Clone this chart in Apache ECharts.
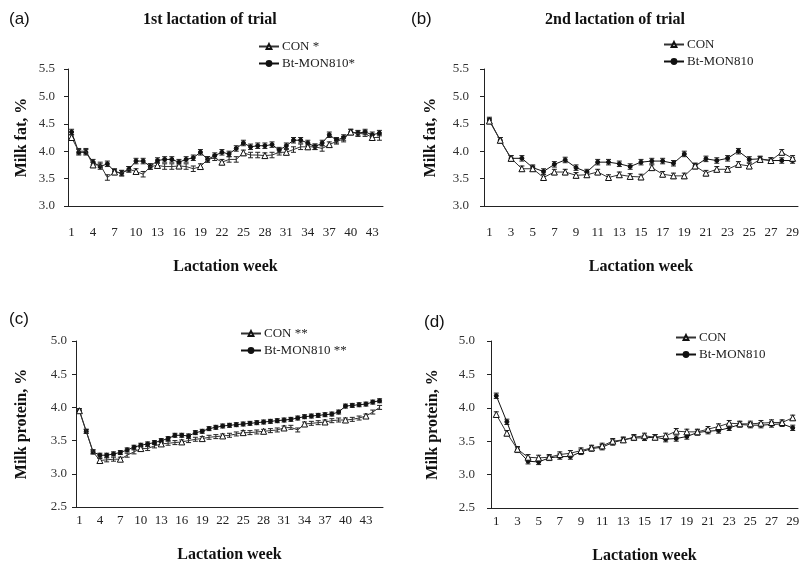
<!DOCTYPE html>
<html><head><meta charset="utf-8">
<script src="https://cdn.jsdelivr.net/npm/echarts@6/dist/echarts.min.js"></script>
<style>html,body{margin:0;padding:0;background:#fff}#c{width:803px;height:565px}</style>
</head><body><div id="c"></div>
<script>
// ---- categories ----
const weeksA = ['1','2','3','4','5','6','7','8','9','10','11','12','13','14','15','16','17','18','19','20','21','22','23','24','25','26','27','28','29','30','31','32','33','34','35','36','37','38','39','40','41','42','43','44'];
const weeksB = ['1','2','3','4','5','6','7','8','9','10','11','12','13','14','15','16','17','18','19','20','21','22','23','24','25','26','27','28','29'];
const weeksC = ['1','2','3','4','5','6','7','8','9','10','11','12','13','14','15','16','17','18','19','20','21','22','23','24','25','26','27','28','29','30','31','32','33','34','35','36','37','38','39','40','41','42','43','44','45'];
const weeksD = weeksB;

// ---- (a) milk fat, 1st lactation ----
const fatA_CON = [4.25,4.0,4.0,3.75,3.75,3.52,3.62,3.6,3.67,3.63,3.58,3.72,3.74,3.72,3.72,3.73,3.72,3.68,3.72,3.85,3.88,3.8,3.85,3.85,3.97,3.93,3.93,3.92,3.93,3.98,3.98,4.03,4.08,4.08,4.08,4.05,4.12,4.18,4.22,4.35,4.32,4.32,4.25,4.25];
const fatA_Bt  = [4.35,3.98,3.98,3.8,3.72,3.77,3.63,3.6,3.67,3.82,3.82,3.72,3.83,3.85,3.85,3.8,3.85,3.88,3.98,3.85,3.92,3.98,3.95,4.05,4.15,4.08,4.1,4.1,4.12,4.02,4.1,4.2,4.2,4.15,4.08,4.15,4.3,4.2,4.25,4.35,4.33,4.35,4.3,4.33];
// ---- (b) milk fat, 2nd lactation ----
const fatB_CON = [4.55,4.2,3.87,3.68,3.68,3.52,3.62,3.62,3.56,3.57,3.62,3.52,3.57,3.54,3.53,3.7,3.58,3.55,3.55,3.73,3.6,3.67,3.67,3.76,3.73,3.85,3.83,3.98,3.87];
const fatB_Bt  = [4.57,4.2,3.87,3.87,3.7,3.63,3.76,3.84,3.7,3.62,3.8,3.8,3.77,3.72,3.8,3.82,3.82,3.78,3.95,3.73,3.86,3.83,3.87,4.0,3.85,3.86,3.83,3.83,3.83];
// ---- (c) milk protein, 1st lactation ----
const protC_CON = [3.95,3.64,3.33,3.2,3.21,3.22,3.22,3.28,3.33,3.38,3.38,3.42,3.45,3.46,3.47,3.48,3.5,3.52,3.53,3.55,3.56,3.57,3.58,3.6,3.62,3.62,3.63,3.64,3.65,3.66,3.69,3.7,3.66,3.75,3.76,3.77,3.78,3.8,3.81,3.81,3.82,3.84,3.87,3.93,4.0];
const protC_Bt  = [3.95,3.64,3.33,3.28,3.28,3.3,3.32,3.36,3.4,3.43,3.45,3.47,3.5,3.53,3.58,3.58,3.57,3.62,3.64,3.68,3.7,3.72,3.73,3.74,3.75,3.76,3.77,3.78,3.79,3.8,3.81,3.82,3.84,3.86,3.87,3.88,3.89,3.9,3.93,4.02,4.03,4.04,4.05,4.08,4.1];
// ---- (d) milk protein, 2nd lactation ----
const protD_CON = [3.9,3.62,3.38,3.26,3.25,3.26,3.3,3.32,3.36,3.4,3.43,3.5,3.52,3.56,3.58,3.56,3.58,3.65,3.64,3.64,3.68,3.72,3.77,3.76,3.76,3.77,3.78,3.78,3.85];
const protD_Bt  = [4.18,3.79,3.37,3.2,3.19,3.25,3.27,3.27,3.34,3.39,3.41,3.48,3.52,3.55,3.55,3.56,3.53,3.54,3.57,3.63,3.65,3.66,3.7,3.75,3.74,3.74,3.75,3.76,3.7];
// estimated standard errors (error bar half-lengths) per panel
const seA = 0.05, seB = 0.05, seC = 0.03, seD = 0.04;

const SERIF = 'Liberation Serif';
const INK = '#111';

function yAxis(idx, min, max, name, gap, margin) {
  return {gridIndex: idx, type: 'value', min: min, max: max, interval: 0.5,
    axisLine: {show: true, lineStyle: {color: '#222', width: 1}},
    axisTick: {show: true, length: 4, lineStyle: {color: '#222'}},
    splitLine: {show: false},
    axisLabel: {formatter: v => v.toFixed(1), fontFamily: SERIF, fontSize: 13, color: '#333', margin: margin},
    name: name, nameLocation: 'middle', nameGap: gap,
    nameTextStyle: {fontFamily: SERIF, fontWeight: 'bold', fontSize: 16, color: INK}};
}
function xAxis(idx, data, interval, margin, gap) {
  return {gridIndex: idx, type: 'category', data: data, boundaryGap: true,
    axisLine: {lineStyle: {color: '#222', width: 1}},
    axisTick: {interval: 0, length: 4, lineStyle: {color: '#222'}},
    axisLabel: {interval: interval, fontFamily: SERIF, fontSize: 13, color: '#222', margin: margin},
    name: 'Lactation week', nameLocation: 'middle', nameGap: gap,
    nameTextStyle: {fontFamily: SERIF, fontWeight: 'bold', fontSize: 16, color: INK}};
}
function lineS(name, data, idx, hollow) {
  return {type: 'line', name: name, data: data, xAxisIndex: idx, yAxisIndex: idx,
    symbol: hollow ? 'triangle' : 'circle', symbolSize: hollow ? 6 : 4,
    itemStyle: {color: hollow ? '#fff' : INK, borderColor: INK, borderWidth: 1},
    lineStyle: {color: hollow ? '#333' : INK, width: 1}, z: hollow ? 4 : 3, animation: false};
}
function errS(data, se, idx) {
  return {type: 'custom', xAxisIndex: idx, yAxisIndex: idx, silent: true, z: 2, animation: false,
    data: data.map((v, i) => [i, v]),
    renderItem: function (params, api) {
      const i = api.value(0), v = api.value(1);
      const hi = api.coord([i, v + se]), lo = api.coord([i, v - se]);
      const w = 2.5, st = {stroke: '#222', lineWidth: 1};
      return {type: 'group', children: [
        {type: 'line', shape: {x1: hi[0], y1: hi[1], x2: lo[0], y2: lo[1]}, style: st},
        {type: 'line', shape: {x1: hi[0] - w, y1: hi[1], x2: hi[0] + w, y2: hi[1]}, style: st},
        {type: 'line', shape: {x1: lo[0] - w, y1: lo[1], x2: lo[0] + w, y2: lo[1]}, style: st}
      ]};
    }};
}
function legend(names, left, top) {
  return {data: names, left: left, top: top, orient: 'vertical', itemGap: 4, itemWidth: 20, itemHeight: 6,
    padding: 0, selectedMode: false,
    textStyle: {fontFamily: SERIF, fontSize: 13, color: '#222', padding: [0, 0, 0, -2]}};
}
function txt(x, y, s, font, size, weight) {
  return {type: 'text', left: x, top: y, style: {text: s, fontFamily: font, fontSize: size, fontWeight: weight, fill: INK}};
}

const chart = echarts.init(document.getElementById('c'), null, {renderer: 'canvas'});
chart.setOption({
  backgroundColor: '#fff',
  animation: false,
  grid: [
    {left: 68, top: 69, width: 315, height: 137},
    {left: 484, top: 69, width: 314, height: 137},
    {left: 76, top: 341, width: 307, height: 166},
    {left: 491, top: 341, width: 307, height: 167}
  ],
  xAxis: [xAxis(0, weeksA, 2, 20, 53), xAxis(1, weeksB, 1, 20, 53), xAxis(2, weeksC, 2, 7, 40), xAxis(3, weeksD, 1, 7, 40)],
  yAxis: [yAxis(0, 3, 5.5, 'Milk fat, %', 38, 13), yAxis(1, 3, 5.5, 'Milk fat, %', 45, 15),
          yAxis(2, 2.5, 5, 'Milk protein, %', 46, 9), yAxis(3, 2.5, 5, 'Milk protein, %', 50, 16)],
  legend: [
    legend(['CON *', 'Bt-MON810*'], 258, 40),
    legend(['CON', 'Bt-MON810'], 663, 38),
    legend(['CON **', 'Bt-MON810 **'], 240, 327),
    legend(['CON', 'Bt-MON810'], 675, 331)
  ],
  graphic: [
    txt(9, 11, '(a)', 'Liberation Sans', 17, 'normal'),
    txt(411, 11, '(b)', 'Liberation Sans', 17, 'normal'),
    txt(9, 311, '(c)', 'Liberation Sans', 17, 'normal'),
    txt(424, 314, '(d)', 'Liberation Sans', 17, 'normal'),
    txt(143, 12, '1st lactation of trial', SERIF, 16, 'bold'),
    txt(545, 12, '2nd lactation of trial', SERIF, 16, 'bold')
  ],
  series: [
    errS(fatA_CON, seA, 0), errS(fatA_Bt, seA, 0),
    lineS('CON *', fatA_CON, 0, true), lineS('Bt-MON810*', fatA_Bt, 0, false),
    errS(fatB_CON, seB, 1), errS(fatB_Bt, seB, 1),
    lineS('CON', fatB_CON, 1, true), lineS('Bt-MON810', fatB_Bt, 1, false),
    errS(protC_CON, seC, 2), errS(protC_Bt, seC, 2),
    lineS('CON **', protC_CON, 2, true), lineS('Bt-MON810 **', protC_Bt, 2, false),
    errS(protD_CON, seD, 3), errS(protD_Bt, seD, 3),
    lineS('CON', protD_CON, 3, true), lineS('Bt-MON810', protD_Bt, 3, false)
  ]
});
</script></body></html>
